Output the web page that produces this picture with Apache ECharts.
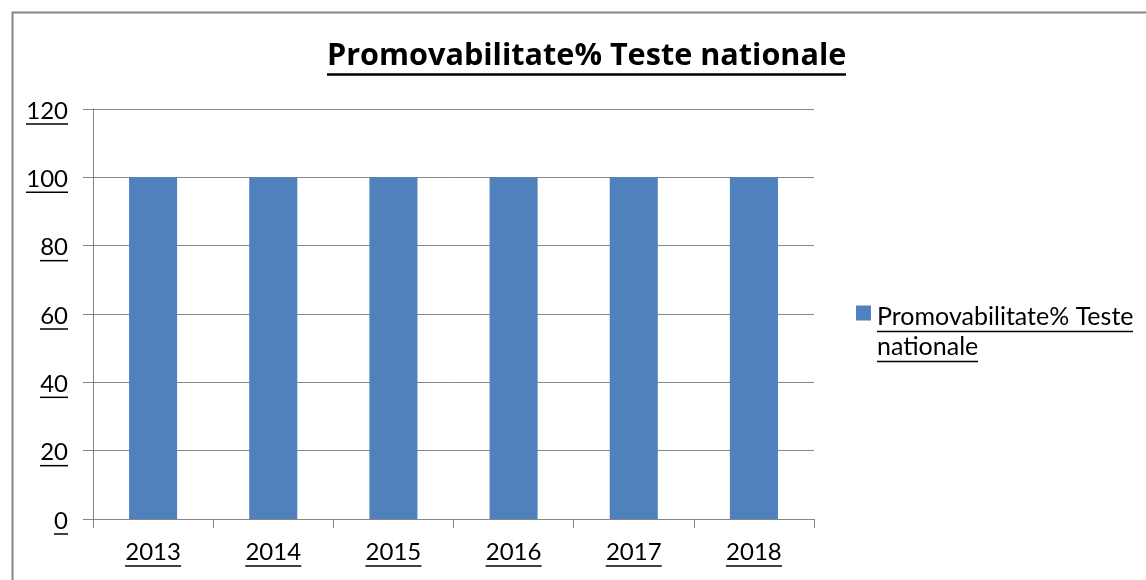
<!DOCTYPE html>
<html>
<head>
<meta charset="utf-8">
<script src="https://cdn.jsdelivr.net/npm/echarts@6/dist/echarts.min.js"></script>
<style>
html,body{margin:0;padding:0;background:#fff;}
#chart{width:1146px;height:580px;}
</style>
</head>
<body>
<div id="chart"></div>
<script>
const titleText = 'Promovabilitate% Teste nationale';
const seriesName = 'Promovabilitate% Teste nationale';
const categories = ['2013', '2014', '2015', '2016', '2017', '2018'];
const values = [100, 100, 100, 100, 100, 100];
const yTickLabels = ['0', '20', '40', '60', '80', '100', '120'];
const yTicks = { min: 0, max: 120, interval: 20 };

const FONT = 'Lato, Calibri, Carlito, sans-serif';
const TITLE_FONT = '"Open Sans", sans-serif';
const ctx = document.createElement('canvas').getContext('2d');
function measure(text, font) {
  ctx.font = font;
  return Math.round(ctx.measureText(text).width);
}

const legendLine1 = 'Promovabilitate% Teste';
const legendLine2 = 'nationale';
const LEG_SIZE = 25;
const AX_SIZE = 24;
const TITLE_SIZE = 30.6;
const titleWidth = measure(titleText, 'bold ' + TITLE_SIZE + 'px ' + TITLE_FONT);

// rich styles with underline widths measured from the text
const xRich = { a: { fontFamily: FONT, fontSize: AX_SIZE, color: '#000', lineHeight: 24 } };
categories.forEach(function (c, i) {
  xRich['u' + i] = { width: measure(c, AX_SIZE + 'px ' + FONT), height: 1.5, backgroundColor: '#000', lineHeight: 4 };
});
const yRich = { a: { fontFamily: FONT, fontSize: AX_SIZE, color: '#000', lineHeight: 22 } };
yTickLabels.forEach(function (t, i) {
  yRich['u' + i] = { width: measure(t, AX_SIZE + 'px ' + FONT), height: 1.5, backgroundColor: '#000', lineHeight: 4 };
});

const chart = echarts.init(document.getElementById('chart'));
chart.setOption({
  backgroundColor: '#ffffff',
  animation: false,
  graphic: [{
    type: 'rect',
    left: 10, top: 10,
    shape: { width: 1300, height: 700 },
    style: { fill: 'none', stroke: '#868686', lineWidth: 2 },
    silent: true
  }],
  title: {
    text: '{t|' + titleText + '}\n{u|}',
    left: Math.round(586 - titleWidth / 2),
    top: 39,
    padding: 0,
    textStyle: {
      rich: {
        t: { fontFamily: TITLE_FONT, fontSize: TITLE_SIZE, fontWeight: 'bold', color: '#000', lineHeight: 34 },
        u: { width: titleWidth, height: 2.5, backgroundColor: '#000', lineHeight: 3 }
      }
    }
  },
  grid: { left: 93, right: 332, top: 109, bottom: 61, containLabel: false },
  legend: {
    show: true,
    left: 856,
    top: 304,
    padding: 0,
    orient: 'vertical',
    itemWidth: 15,
    itemHeight: 60,
    itemGap: 0,
    icon: 'path://M0,4h15v15h-15z M7.45,59.95h0.05v0.05h-0.05z',
    data: [seriesName],
    formatter: function () {
      return '{a|' + legendLine1 + '}\n{u|}\n{a|' + legendLine2 + '}\n{v|}';
    },
    textStyle: {
      padding: [0, 0, 0, 1],
      rich: {
        a: { fontFamily: FONT, fontSize: LEG_SIZE, color: '#000', lineHeight: 26 },
        u: { width: measure(legendLine1, LEG_SIZE + 'px ' + FONT), height: 1.5, backgroundColor: '#000', lineHeight: 4 },
        v: { width: measure(legendLine2, LEG_SIZE + 'px ' + FONT), height: 1.5, backgroundColor: '#000', lineHeight: 4 }
      }
    }
  },
  xAxis: {
    type: 'category',
    data: categories,
    axisLine: { show: true, lineStyle: { color: '#868686', width: 1 } },
    axisTick: { show: true, alignWithLabel: false, length: 9, lineStyle: { color: '#868686' } },
    splitLine: { show: false },
    axisLabel: {
      margin: 21,
      formatter: function (v, i) { return '{a|' + v + '}\n{u' + i + '|}'; },
      rich: xRich
    }
  },
  yAxis: {
    type: 'value',
    min: yTicks.min,
    max: yTicks.max,
    interval: yTicks.interval,
    axisLine: { show: true, lineStyle: { color: '#868686', width: 1 } },
    axisTick: { show: true, length: 10, lineStyle: { color: '#868686' } },
    splitLine: { show: true, lineStyle: { color: '#868686', width: 1 } },
    axisLabel: {
      margin: 25,
      padding: [8, 0, 0, 0],
      formatter: function (v) {
        const i = yTickLabels.indexOf(String(v));
        return '{a|' + v + '}\n{u' + i + '|}';
      },
      rich: yRich
    }
  },
  series: [{
    name: seriesName,
    type: 'bar',
    data: values,
    barWidth: '40%',
    itemStyle: { color: '#4f81bd' }
  }]
});
</script>
</body>
</html>
